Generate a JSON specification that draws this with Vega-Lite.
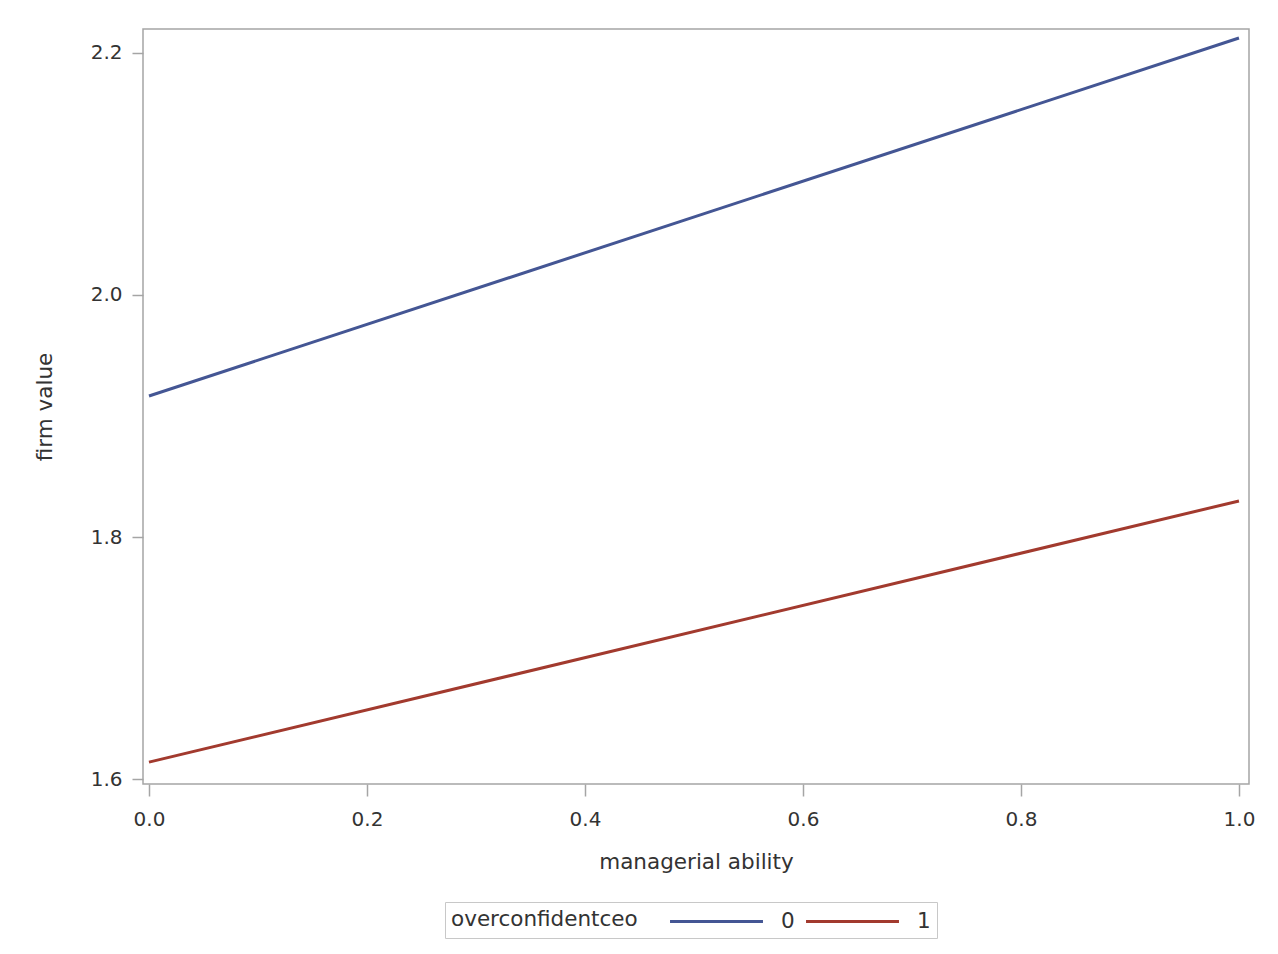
{
  "$schema": "https://vega.github.io/schema/vega-lite/v6.json",
  "autosize": "none",
  "width": 1106,
  "height": 755,
  "padding": {"left": 143, "top": 29, "right": 29, "bottom": 170},
  "background": "white",
  "data": {
    "values": [
      {"ability": 0.0, "value": 1.9165, "ceo": "0"},
      {"ability": 1.0, "value": 2.2124, "ceo": "0"},
      {"ability": 0.0, "value": 1.614, "ceo": "1"},
      {"ability": 1.0, "value": 1.8298, "ceo": "1"}
    ]
  },
  "mark": {"type": "line", "strokeWidth": 3, "clip": true},
  "encoding": {
    "x": {
      "field": "ability", "type": "quantitative",
      "scale": {"domain": [-0.0055, 1.0092], "nice": false, "zero": false},
      "axis": {"title": "managerial ability", "values": [0, 0.2, 0.4, 0.6, 0.8, 1.0], "format": ".1f", "grid": false, "domain": false, "tickSize": 12, "labelPadding": 13, "titlePadding": 22}
    },
    "y": {
      "field": "value", "type": "quantitative",
      "scale": {"domain": [1.5959, 2.2198], "nice": false, "zero": false},
      "axis": {"title": "firm value", "values": [1.6, 1.8, 2.0, 2.2], "format": ".1f", "grid": false, "domain": false, "tickSize": 11, "labelPadding": 10, "titlePadding": 34}
    },
    "color": {
      "field": "ceo", "type": "nominal",
      "scale": {"domain": ["0", "1"], "range": ["#445694", "#A23A2E"]},
      "legend": {
        "title": "overconfidentceo",
        "orient": "none",
        "legendX": 302,
        "legendY": 873,
        "direction": "horizontal",
        "titleOrient": "left",
        "titleAnchor": "middle",
        "titleBaseline": "middle",
        "titleLimit": 500,
        "titlePadding": 65,
        "strokeColor": "#C8C8C8",
        "padding": 6,
        "symbolType": "M-4,0H4",
        "symbolSize": 540,
        "symbolStrokeWidth": 3,
        "labelOffset": 51,
        "columnPadding": 5
      }
    }
  },
  "config": {
    "font": "DejaVu Sans",
    "view": {"stroke": "#A5A5A5", "strokeWidth": 1.5},
    "axis": {
      "labelFont": "DejaVu Sans", "labelFontSize": 20, "labelColor": "#333333",
      "titleFont": "DejaVu Sans", "titleFontSize": 21.5, "titleFontWeight": "normal", "titleColor": "#333333",
      "tickColor": "#A5A5A5", "tickWidth": 1.5
    },
    "legend": {
      "labelFont": "DejaVu Sans", "labelFontSize": 21.5, "labelColor": "#333333",
      "titleFont": "DejaVu Sans", "titleFontSize": 21.5, "titleFontWeight": "normal", "titleColor": "#333333"
    }
  }
}
